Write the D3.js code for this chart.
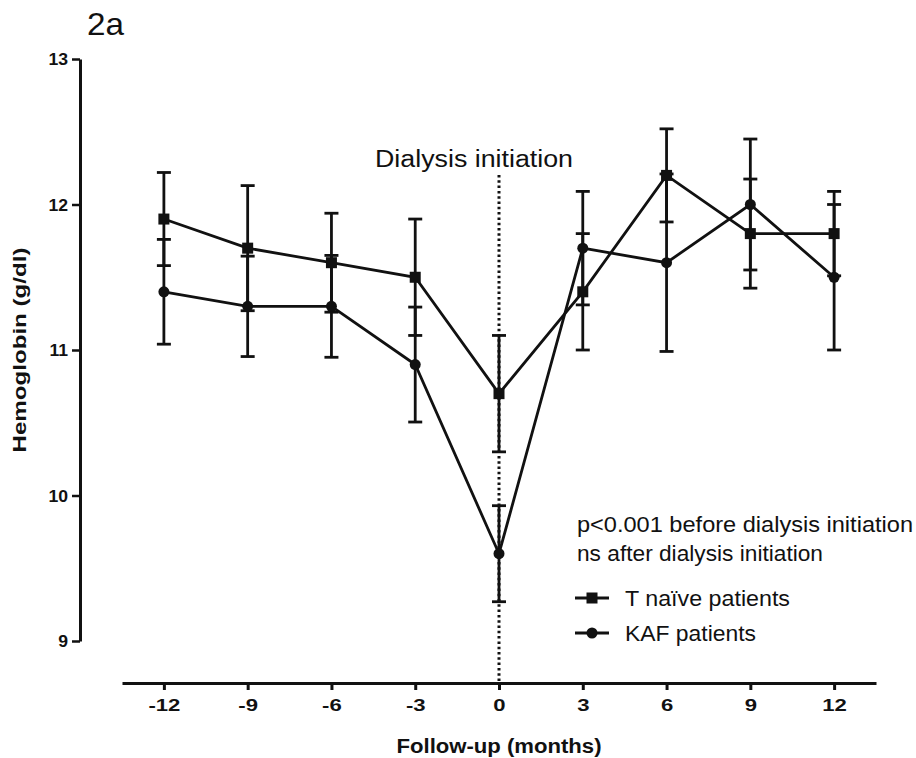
<!DOCTYPE html>
<html>
<head>
<meta charset="utf-8">
<script src="https://cdn.jsdelivr.net/npm/d3@7"></script>
<style>
  html, body { margin: 0; padding: 0; background: #fff; }
  svg { display: block; font-family: "Liberation Sans", Arial, sans-serif; }
</style>
</head>
<body>
<svg id="chart" width="916" height="758"></svg>
<script>
// ---- data ----
const months = [-12, -9, -6, -3, 0, 3, 6, 9, 12];
const tNaiveMean = [11.9, 11.7, 11.6, 11.5, 10.7, 11.4, 12.2, 11.8, 11.8];
const tNaiveErr  = [0.32, 0.43, 0.34, 0.40, 0.40, 0.40, 0.32, 0.375, 0.29];
const kafMean    = [11.4, 11.3, 11.3, 10.9, 9.6, 11.7, 11.6, 12.0, 11.5];
const kafErr     = [0.36, 0.345, 0.35, 0.395, 0.33, 0.39, 0.61, 0.45, 0.50];
const xTicks = [-12, -9, -6, -3, 0, 3, 6, 9, 12];
const yTicks = [9, 10, 11, 12, 13];
const seriesNames = ["T na\u00efve patients", "KAF patients"];
const panelLabel = "2a";
const markerText = "Dialysis initiation";
const noteLines = ["p<0.001 before dialysis initiation", "ns after dialysis initiation"];
const xTitle = "Follow-up (months)";
const yTitle = "Hemoglobin (g/dl)";

// ---- layout ----
const svg = d3.select("#chart");
const x = d3.scaleLinear().domain([-13.5, 13.5]).range([122, 876]);
const y = d3.scaleLinear().domain([9, 13]).range([641, 59]);
const axisY = 683, axisXpos = 80;
const ink = "#111";
const FONT = '"Liberation Sans", Arial, sans-serif';

function stretch(sel, factor) {
  sel.each(function () {
    const w = this.getComputedTextLength();
    d3.select(this).attr("textLength", w * factor).attr("lengthAdjust", "spacingAndGlyphs");
  });
}

// panel label
svg.append("text").attr("x", 87).attr("y", 35).attr("font-size", 32).attr("fill", ink)
  .attr("textLength", 37).attr("lengthAdjust", "spacingAndGlyphs").text(panelLabel);

// y axis
const gy = svg.append("g").attr("transform", `translate(${axisXpos},0)`)
  .call(d3.axisLeft(y).tickValues(yTicks).tickSize(8).tickSizeOuter(0).tickPadding(4).tickFormat(d3.format("d")));
gy.attr("font-size", null).attr("font-family", null);
gy.select(".domain").attr("stroke", ink).attr("stroke-width", 3);
gy.selectAll(".tick line").attr("stroke", ink).attr("stroke-width", 2.5);
gy.selectAll(".tick text")
  .style("font-size", "16px").style("font-weight", "bold").style("font-family", FONT)
  .attr("fill", ink).attr("dy", "0.35em")
  .call(stretch, 1.1);

// x axis
const gx = svg.append("g").attr("transform", `translate(0,${axisY})`)
  .call(d3.axisBottom(x).tickValues(xTicks).tickSize(7).tickSizeOuter(0).tickPadding(9).tickFormat(d3.format("d")));
gx.attr("font-size", null).attr("font-family", null);
gx.select(".domain").attr("stroke", ink).attr("stroke-width", 3);
gx.selectAll(".tick line").attr("stroke", ink).attr("stroke-width", 3);
gx.selectAll(".tick text")
  .style("font-size", "17px").style("font-weight", "bold").style("font-family", FONT)
  .attr("fill", ink)
  .text(d => d3.format("d")(d).replace("\u2212", "-"))
  .call(stretch, 1.3);

// axis titles
svg.append("text").attr("x", x(0)).attr("y", 753).attr("text-anchor", "middle")
  .attr("font-size", 20).attr("font-weight", "bold").attr("fill", ink)
  .attr("textLength", 205).attr("lengthAdjust", "spacingAndGlyphs").text(xTitle);
svg.append("text").attr("transform", `translate(26,${y(11)}) rotate(-90)`).attr("text-anchor", "middle")
  .attr("font-size", 19).attr("font-weight", "bold").attr("fill", ink)
  .attr("textLength", 205).attr("lengthAdjust", "spacingAndGlyphs").text(yTitle);

// dialysis initiation dotted line
svg.append("line").attr("x1", x(0)).attr("x2", x(0)).attr("y1", 175).attr("y2", axisY)
  .attr("stroke", ink).attr("stroke-width", 3).attr("stroke-dasharray", "2.5,2.8");
svg.append("text").attr("x", 375).attr("y", 167).attr("font-size", 23).attr("fill", ink)
  .attr("textLength", 198).attr("lengthAdjust", "spacingAndGlyphs").text(markerText);

// series
const series = [
  { name: seriesNames[0], mean: tNaiveMean, err: tNaiveErr, shape: "square" },
  { name: seriesNames[1], mean: kafMean, err: kafErr, shape: "circle" }
];
const capHalf = 7;
const line = d3.line().x(d => x(d.m)).y(d => y(d.v));

series.forEach(s => {
  const pts = months.map((m, i) => ({ m, v: s.mean[i], e: s.err[i] }));
  const eg = svg.append("g").attr("stroke", ink).attr("stroke-width", 2.8);
  pts.forEach(p => {
    eg.append("line").attr("x1", x(p.m)).attr("x2", x(p.m)).attr("y1", y(p.v + p.e)).attr("y2", y(p.v - p.e));
    [p.v + p.e, p.v - p.e].forEach(v => {
      eg.append("line").attr("x1", x(p.m) - capHalf).attr("x2", x(p.m) + capHalf).attr("y1", y(v)).attr("y2", y(v));
    });
  });
  s.pts = pts;
});
series.forEach(s => {
  svg.append("path").datum(s.pts).attr("d", line).attr("fill", "none").attr("stroke", ink).attr("stroke-width", 2.8);
});
function marker(g, shape, cx, cy) {
  if (shape === "square") {
    g.append("rect").attr("x", cx - 5.5).attr("y", cy - 5.5).attr("width", 11).attr("height", 11).attr("fill", ink);
  } else {
    g.append("circle").attr("cx", cx).attr("cy", cy).attr("r", 5.5).attr("fill", ink);
  }
}
series.forEach(s => {
  const g = svg.append("g");
  s.pts.forEach(p => marker(g, s.shape, x(p.m), y(p.v)));
});

// notes
svg.append("text").attr("x", 577).attr("y", 532).attr("font-size", 22).attr("fill", ink)
  .attr("textLength", 336).attr("lengthAdjust", "spacingAndGlyphs").text(noteLines[0]);
svg.append("text").attr("x", 577).attr("y", 561).attr("font-size", 22).attr("fill", ink)
  .attr("textLength", 246).attr("lengthAdjust", "spacingAndGlyphs").text(noteLines[1]);

// legend
const legLens = [165, 131];
series.forEach((s, i) => {
  const ly = 598 + i * 35;
  const g = svg.append("g");
  g.append("line").attr("x1", 575).attr("x2", 609).attr("y1", ly).attr("y2", ly).attr("stroke", ink).attr("stroke-width", 2.8);
  marker(g, s.shape, 592, ly);
  g.append("text").attr("x", 625).attr("y", ly + 8).attr("font-size", 22).attr("fill", ink)
    .attr("textLength", legLens[i]).attr("lengthAdjust", "spacingAndGlyphs").text(s.name);
});
</script>
</body>
</html>
